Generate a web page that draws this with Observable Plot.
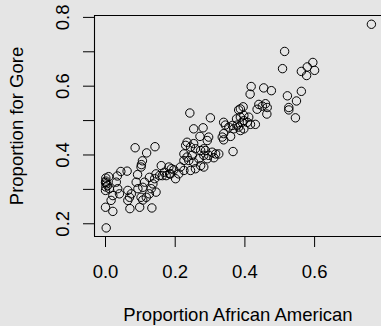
<!DOCTYPE html>
<html><head><meta charset="utf-8">
<script src="https://cdn.jsdelivr.net/npm/d3@7"></script>
<script src="https://cdn.jsdelivr.net/npm/@observablehq/plot@0.6"></script>
<style>html,body{margin:0;padding:0;background:#e5e5e5;overflow:hidden}</style>
</head><body><div id="chart"></div>
<script>
const perAA = [
0.002,0.000,0.021,0.070,0.098,0.133,0.085,0.118,0.142,0.106,
0.103,0.102,0.092,0.044,0.062,0.034,0.001,0.001,0.002,0.001,
0.000,0.031,0.000,0.011,0.035,0.040,0.021,0.016,0.064,0.069,
0.064,0.074,0.088,0.093,0.112,0.107,0.117,0.102,0.107,0.126,
0.136,0.131,0.145,0.126,0.160,0.169,0.155,0.184,0.174,0.189,
0.145,0.141,0.006,0.009,0.163,0.182,0.187,0.196,0.201,0.210,
0.215,0.225,0.244,0.258,0.225,0.239,0.253,0.268,0.273,0.282,
0.225,0.234,0.249,0.234,0.230,0.244,0.253,0.258,0.282,0.306,
0.316,0.325,0.311,0.273,0.287,0.282,0.296,0.292,0.271,0.296,
0.292,0.253,0.280,0.242,0.301,0.366,0.335,0.339,0.359,0.339,
0.387,0.339,0.344,0.354,0.364,0.368,0.378,0.382,0.392,0.387,
0.376,0.411,0.407,0.416,0.430,0.397,0.397,0.387,0.395,0.382,
0.397,0.440,0.450,0.459,0.464,0.435,0.463,0.418,0.415,0.454,
0.476,0.514,0.508,0.522,0.548,0.562,0.526,0.526,0.545,0.562,
0.579,0.595,0.600,0.577,0.763
];
const goreShare = [
0.188,0.248,0.236,0.244,0.248,0.246,0.421,0.406,0.424,0.383,
0.372,0.365,0.343,0.352,0.353,0.339,0.333,0.324,0.316,0.307,
0.320,0.321,0.297,0.302,0.302,0.287,0.282,0.268,0.297,0.277,
0.268,0.287,0.321,0.302,0.321,0.306,0.277,0.277,0.269,0.335,
0.316,0.302,0.292,0.287,0.369,0.350,0.340,0.345,0.340,0.360,
0.345,0.331,0.311,0.337,0.340,0.365,0.345,0.357,0.331,0.345,
0.365,0.355,0.355,0.360,0.384,0.384,0.379,0.389,0.369,0.365,
0.403,0.394,0.399,0.437,0.428,0.423,0.433,0.418,0.418,0.408,
0.403,0.403,0.392,0.413,0.413,0.399,0.399,0.389,0.454,0.452,
0.442,0.476,0.479,0.522,0.508,0.410,0.452,0.444,0.454,0.462,
0.471,0.495,0.487,0.481,0.486,0.476,0.487,0.481,0.495,0.510,
0.505,0.510,0.495,0.489,0.489,0.476,0.500,0.534,0.540,0.531,
0.515,0.547,0.542,0.549,0.538,0.533,0.519,0.599,0.577,0.595,
0.587,0.701,0.651,0.572,0.557,0.585,0.538,0.531,0.508,0.643,
0.656,0.669,0.646,0.631,0.780
];
const xTicks = [0, 0.2, 0.4, 0.6];
const xTickLabels = ["0.0", "0.2", "0.4", "0.6"];
const yTicks = [0.2, 0.3, 0.4, 0.5, 0.6, 0.7, 0.8];
const yLabelTicks = [0.2, 0.4, 0.6, 0.8];
const yTickLabels = ["0.2", "0.4", "0.6", "0.8"];
const xTitle = "Proportion African American";
const yTitle = "Proportion for Gore";

const rows = perAA.map((x, i) => ({x, y: goreShare[i]}));
const xDomain = [-0.0316, 0.792];
const yDomain = [0.163, 0.8055];
const fs = 18.5;
const txt = {fontSize: fs, fill: "black", textAnchor: "middle", lineAnchor: "middle"};

const chart = Plot.plot({
  width: 381,
  height: 326,
  marginLeft: 94,
  marginRight: 0,
  marginTop: 15,
  marginBottom: 90,
  style: {background: "#e5e5e5", fontFamily: "'Liberation Sans', Arial, sans-serif", fontSize: fs + "px", color: "black", overflow: "visible"},
  x: {domain: xDomain},
  y: {domain: yDomain},
  marks: [
    Plot.ruleY([yDomain[0], yDomain[1]], {stroke: "black", strokeWidth: 1.1}),
    Plot.ruleX([xDomain[0]], {stroke: "black", strokeWidth: 1.1}),
    Plot.axisX(xTicks, {tickSize: 11, tickFormat: () => "", label: null, stroke: "black"}),
    Plot.axisY(yTicks, {tickSize: 11, tickFormat: () => "", label: null, stroke: "black"}),
    Plot.text(xTicks, {x: d => d, text: (d, i) => xTickLabels[i], frameAnchor: "bottom", dy: 35.5, ...txt}),
    Plot.text(yLabelTicks, {y: d => d, text: (d, i) => yTickLabels[i], frameAnchor: "left", dx: -31.5, rotate: -90, ...txt}),
    Plot.text([xTitle], {text: d => d, frameAnchor: "bottom", dy: 79, ...txt}),
    Plot.text([yTitle], {text: d => d, frameAnchor: "left", dx: -77, rotate: -90, ...txt}),
    Plot.dot(rows, {x: "x", y: "y", r: 4.2, stroke: "black", fill: "none", strokeWidth: 1})
  ]
});
document.getElementById("chart").append(chart);
</script>
</body></html>
